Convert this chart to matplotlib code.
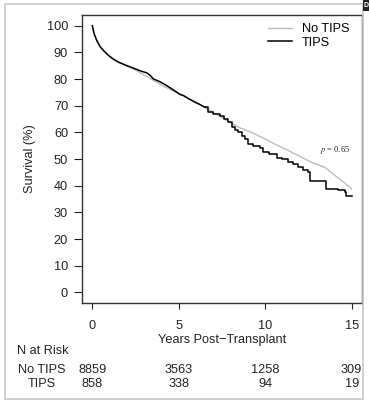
import numpy as np
import matplotlib
matplotlib.use('Agg')
import matplotlib.pyplot as plt
from matplotlib.transforms import blended_transform_factory
from matplotlib.patches import Rectangle

plt.rcParams['font.family'] = ['Liberation Sans', 'DejaVu Sans']
plt.rcParams['mathtext.fontset'] = 'stix'

# Kaplan-Meier curves (years, survival %)
# TIPS: dense early part (drawn as a line), sparse late part (drawn as steps)
t_tips_early = [0, 0.1, 0.25, 0.46, 0.7, 0.94, 1.2, 1.52, 2.0, 2.48, 2.8, 3.15, 3.35,
                3.54, 3.9, 4.21, 4.5, 5.08, 5.27, 5.6, 5.94, 6.2, 6.52]
s_tips_early = [100, 97, 94.5, 92, 90.3, 88.8, 87.5, 86.3, 85, 83.8, 83, 82.3, 81.3,
                80, 79, 77.9, 76.7, 74.2, 73.8, 72.5, 71.3, 70.5, 69.4]
t_tips_late = [6.52, 6.71, 7.0, 7.39, 7.6, 7.86, 8.05, 8.25, 8.45, 8.64, 8.85, 9.02,
               9.3, 9.69, 9.88, 10.2, 10.7, 11.0, 11.33, 11.6, 11.9, 12.2, 12.48, 12.58,
               13.54, 14.21, 14.6, 14.69, 15.0]
s_tips_late = [69.4, 67.5, 67, 66.3, 65, 63.8, 62, 60.7, 60, 58.8, 57.5, 55.7,
               55, 54.2, 52.5, 51.9, 50.5, 50, 48.8, 48, 46.9, 46, 45.1, 41.9,
               38.8, 38.2, 37.6, 36.3, 36]

t_notips = [0, 0.1, 0.25, 0.46, 0.7, 0.94, 1.5, 2.5, 3.44, 4.21, 5.08, 6.0, 7.0, 7.77,
            8.5, 9.4, 10.0, 10.5, 11.33, 12.0, 12.67, 13.44, 14.0, 14.5, 15.0]
s_notips = [100, 97, 94.5, 92, 90.3, 88.8, 86.3, 83.4, 79.8, 77.0, 74.2, 71.3, 67.5, 64.4,
            61.8, 59.4, 57.5, 55.8, 53.2, 51.0, 48.8, 46.9, 44.0, 41.5, 38.8]

risk_times = [0, 5, 10, 15]
risk_notips = [8859, 3563, 1258, 309]
risk_tips = [858, 338, 94, 19]

W, H = 369, 403
FS = 9.2
TXT = '#222222'
fig = plt.figure(figsize=(W / 100, H / 100), dpi=100)

def fx(x):
    return x / W

def fy(y):
    return 1 - y / H

# outer light frame
fig.patches.append(Rectangle((fx(5), fy(399)), fx(363) - fx(5), fy(4) - fy(399),
                             transform=fig.transFigure, fill=False,
                             edgecolor='#c8c8c8', linewidth=1.2))
# panel label, mostly outside the picture in the reference
fig.patches.append(Rectangle((fx(363), fy(11)), fx(369) - fx(363), fy(0) - fy(11),
                             transform=fig.transFigure, facecolor='#222222',
                             edgecolor='none'))
fig.text(fx(366), fy(5.5), 'D', color='white', fontsize=5, fontweight='bold',
         ha='center', va='center')

ax = fig.add_axes([fx(82), fy(303), fx(362) - fx(82), fy(15) - fy(303)])
ax.plot(t_notips, s_notips, color='#bcbcbc', linewidth=1.0, label='No TIPS')
ax.plot(t_tips_early, s_tips_early, color='black', linewidth=1.1, label='TIPS')
ax.plot(t_tips_late, s_tips_late, color='black', linewidth=1.1, drawstyle='steps-post')

ax.set_xlim(-0.6, 15.6)
ax.set_ylim(-4, 104)
ax.set_xticks(risk_times)
ax.set_yticks(np.arange(0, 101, 10))
for sp in ax.spines.values():
    sp.set_color('#333333')
    sp.set_linewidth(1.0)
ax.tick_params(axis='y', length=6, width=0.8, pad=4, labelsize=FS, colors=TXT)
ax.tick_params(axis='x', length=4.5, width=0.8, pad=7.5, labelsize=FS, colors=TXT)

ax.text(14.05, 53.2, r'$p$ = 0.65', fontsize=6, family='Liberation Serif',
        ha='center', va='center', color=TXT)

ax.legend(loc='upper left', bbox_to_anchor=(fx(268), fy(23)),
          bbox_transform=fig.transFigure, frameon=False, borderpad=0,
          borderaxespad=0, handlelength=1.9, handletextpad=0.75,
          labelspacing=0.15, fontsize=FS)

fig.text(fx(30), fy(159), 'Survival (%)', rotation=90, ha='center', va='center',
         fontsize=FS, color=TXT)
fig.text(fx(222), fy(340), 'Years Post\u2212Transplant', ha='center', va='center',
         fontsize=FS, color=TXT)
fig.text(fx(17), fy(351), 'N at Risk', ha='left', va='center', fontsize=FS, color=TXT)
fig.text(fx(42), fy(370), 'No TIPS', ha='center', va='center', fontsize=FS, color=TXT)
fig.text(fx(42), fy(384), 'TIPS', ha='center', va='center', fontsize=FS, color=TXT)

tr = blended_transform_factory(ax.transData, fig.transFigure)
for t, a, b in zip(risk_times, risk_notips, risk_tips):
    ax.text(t, fy(370), str(a), transform=tr, ha='center', va='center',
            fontsize=FS, color=TXT, clip_on=False)
    ax.text(t, fy(384), str(b), transform=tr, ha='center', va='center',
            fontsize=FS, color=TXT, clip_on=False)

fig.savefig('out.png', dpi=100)
